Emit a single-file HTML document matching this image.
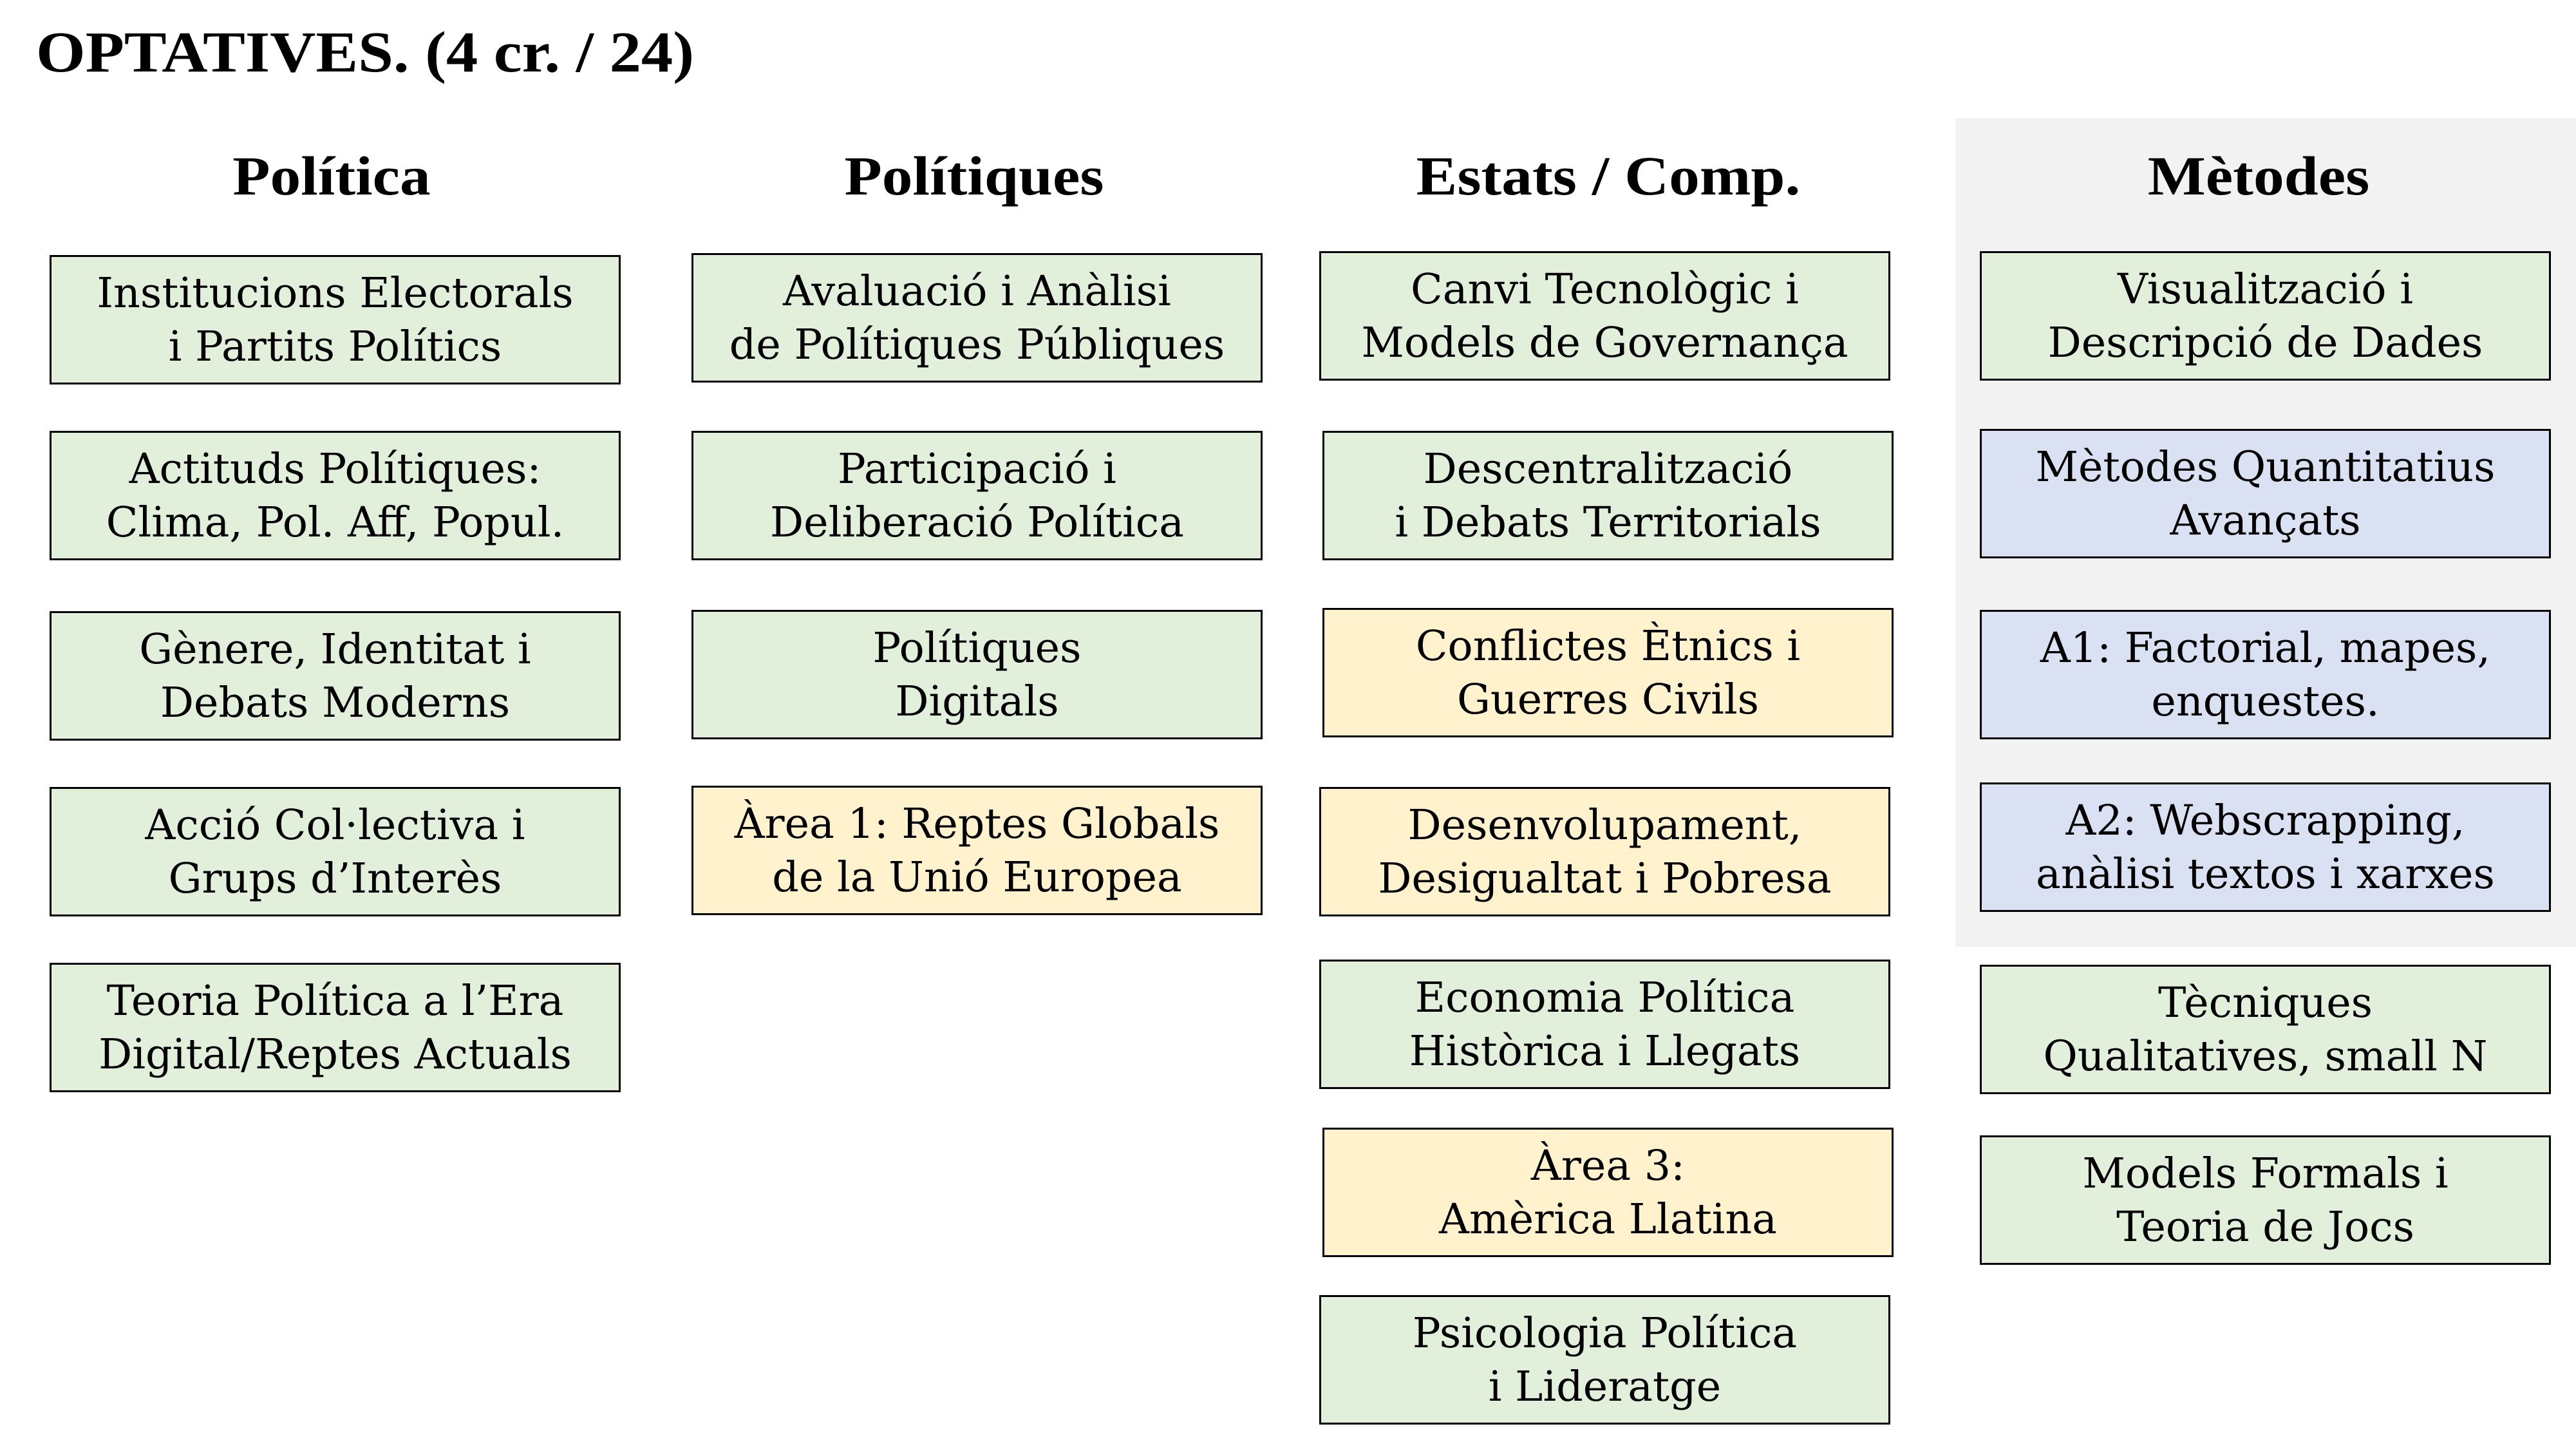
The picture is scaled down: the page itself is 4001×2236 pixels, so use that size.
<!DOCTYPE html>
<html><head><meta charset="utf-8"><style>
body{margin:0;width:4001px;height:2236px;background:#fff;position:relative;overflow:hidden;font-family:"Liberation Serif",serif;}
.t{position:absolute;left:56px;top:22px;font-size:90px;font-weight:bold;line-height:120px;white-space:nowrap;transform:scaleX(1.095);transform-origin:0 0}
.h{position:absolute;width:900px;text-align:center;font-size:86px;font-weight:bold;top:213px;line-height:120px;transform:scaleX(1.11)}
.b{position:absolute;width:881px;height:195px;border:3px solid #000;display:flex;align-items:center;justify-content:center;text-align:center;font-family:"DejaVu Serif",serif;font-size:65px;line-height:83px;box-sizing:content-box;white-space:nowrap}
.g{background:#e2efda}.bl{background:#d9e1f2}.y{background:#fff2cc}
.p{position:absolute;left:3037px;top:184px;width:964px;height:1286px;background:#f2f2f2}
</style></head><body>
<div class="p"></div>
<div class="t">OPTATIVES. (4 cr. / 24)</div>
<div class="h" style="left:65px">Política</div>
<div class="h" style="left:1063px">Polítiques</div>
<div class="h" style="left:2048px">Estats / Comp.</div>
<div class="h" style="left:3058px">Mètodes</div>

<div class="b g" style="left:77px;top:396px">Institucions Electorals<br>i Partits Polítics</div>
<div class="b g" style="left:77px;top:669px">Actituds Polítiques:<br>Clima, Pol. Aff, Popul.</div>
<div class="b g" style="left:77px;top:949px">Gènere, Identitat i<br>Debats Moderns</div>
<div class="b g" style="left:77px;top:1222px">Acció Col·lectiva i<br>Grups d’Interès</div>
<div class="b g" style="left:77px;top:1495px">Teoria Política a l’Era<br>Digital/Reptes Actuals</div>

<div class="b g" style="left:1074px;top:393px">Avaluació i Anàlisi<br>de Polítiques Públiques</div>
<div class="b g" style="left:1074px;top:669px">Participació i<br>Deliberació Política</div>
<div class="b g" style="left:1074px;top:947px">Polítiques<br>Digitals</div>
<div class="b y" style="left:1074px;top:1220px">Àrea 1: Reptes Globals<br>de la Unió Europea</div>

<div class="b g" style="left:2049px;top:390px">Canvi Tecnològic i<br>Models de Governança</div>
<div class="b g" style="left:2054px;top:669px">Descentralització<br>i Debats Territorials</div>
<div class="b y" style="left:2054px;top:944px">Conflictes Ètnics i<br>Guerres Civils</div>
<div class="b y" style="left:2049px;top:1222px">Desenvolupament,<br>Desigualtat i Pobresa</div>
<div class="b g" style="left:2049px;top:1490px">Economia Política<br>Històrica i Llegats</div>
<div class="b y" style="left:2054px;top:1751px">Àrea 3:<br>Amèrica Llatina</div>
<div class="b g" style="left:2049px;top:2011px">Psicologia Política<br>i Lideratge</div>

<div class="b g" style="left:3075px;top:390px">Visualització i<br>Descripció de Dades</div>
<div class="b bl" style="left:3075px;top:666px">Mètodes Quantitatius<br>Avançats</div>
<div class="b bl" style="left:3075px;top:947px">A1: Factorial, mapes,<br>enquestes.</div>
<div class="b bl" style="left:3075px;top:1215px">A2: Webscrapping,<br>anàlisi textos i xarxes</div>
<div class="b g" style="left:3075px;top:1498px">Tècniques<br>Qualitatives, small N</div>
<div class="b g" style="left:3075px;top:1763px">Models Formals i<br>Teoria de Jocs</div>
</body></html>
